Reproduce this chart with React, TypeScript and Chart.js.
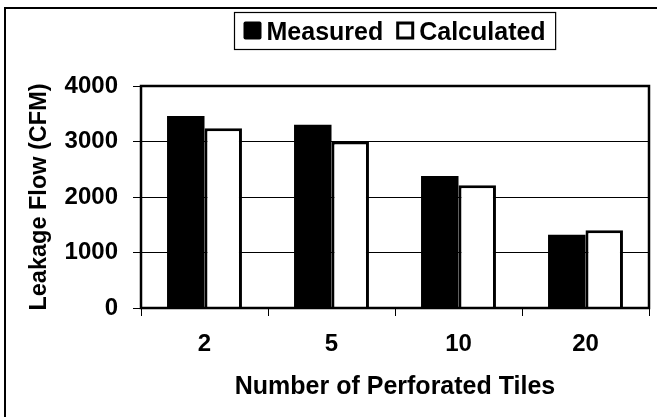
import React, { useEffect, useRef } from "react";
import { Chart, registerables } from "chart.js";

Chart.register(...registerables);

const categories = ["2", "5", "10", "20"];
const measured = [3460, 3300, 2380, 1320];
const calculated = [3240, 3000, 2210, 1400];
const yTicks = [0, 1000, 2000, 3000, 4000];
const seriesNames = ["Measured", "Calculated"];
const xTitle = "Number of Perforated Tiles";
const yTitle = "Leakage Flow (CFM)";

const FONT = "'Liberation Sans', Arial, Helvetica, sans-serif";

const framePlugin = {
  id: "frame",
  afterDatasetsDraw(chart: any) {
    const { ctx, chartArea: a } = chart;
    ctx.save();
    ctx.strokeStyle = "#000";
    ctx.lineWidth = 2.5;
    ctx.strokeRect(a.left, a.top, a.right - a.left, a.bottom - a.top);
    ctx.restore();
  },
  afterDraw(chart: any) {
    const { ctx, chartArea: a } = chart;
    ctx.save();
    // outer frame (only left and top edges visible)
    ctx.strokeStyle = "#000";
    ctx.lineWidth = 2;
    ctx.beginPath();
    ctx.moveTo(5, chart.height);
    ctx.lineTo(5, 8);
    ctx.lineTo(chart.width, 8);
    ctx.stroke();

    // legend
    const ds = chart.data.datasets;
    ctx.font = `bold 25px ${FONT}`;
    const w1 = ctx.measureText(ds[0].label).width;
    const w2 = ctx.measureText(ds[1].label).width;
    const padL = 9, mk = 18, gap = 5, between = 13, padR = 10;
    const total = padL + mk + gap + w1 + between + mk + gap + w2 + padR;
    const cx = (a.left + a.right) / 2;
    const bx = Math.round(cx - total / 2) + 0.5;
    const by = 12.5;
    const bh = 37;
    ctx.fillStyle = "#fff";
    ctx.fillRect(bx, by, total, bh);
    ctx.lineWidth = 1.2;
    ctx.strokeStyle = "#000";
    ctx.strokeRect(bx, by, total, bh);

    const my = 21.5;
    let x = bx + padL;
    ctx.fillStyle = ds[0].backgroundColor;
    ctx.beginPath();
    (ctx as any).roundRect ? (ctx as any).roundRect(x, my, mk, mk, 2) : ctx.rect(x, my, mk, mk);
    ctx.fill();
    x += mk + gap;
    ctx.fillStyle = "#000";
    ctx.textBaseline = "alphabetic";
    ctx.textAlign = "left";
    ctx.fillText(ds[0].label, x, 39.5);
    x += w1 + between;
    ctx.fillStyle = ds[1].backgroundColor;
    ctx.fillRect(x, my, mk, mk);
    ctx.lineWidth = 3;
    ctx.strokeStyle = ds[1].borderColor;
    ctx.strokeRect(x + 1.5, my + 1.5, mk - 3, mk - 3);
    x += mk + gap;
    ctx.fillStyle = "#000";
    ctx.fillText(ds[1].label, x, 39.5);
    ctx.restore();
  },
};

export default function App() {
  const ref = useRef<HTMLCanvasElement | null>(null);

  useEffect(() => {
    if (!ref.current) return;
    const tickFont = { family: FONT, size: 24, weight: "bold" as const };
    const xTickFont = { family: FONT, size: 24, weight: "bold" as const };
    const titleFont = { family: FONT, size: 25, weight: "bold" as const };
    const chart = new Chart(ref.current, {
      type: "bar",
      data: {
        labels: categories,
        datasets: [
          {
            label: seriesNames[0],
            data: measured,
            backgroundColor: "#000",
            borderColor: "#000",
            borderWidth: 0,
            categoryPercentage: 0.59,
            barPercentage: 1,
          },
          {
            label: seriesNames[1],
            data: calculated,
            backgroundColor: "#fff",
            borderColor: "#000",
            borderWidth: 3,
            categoryPercentage: 0.59,
            barPercentage: 1,
          },
        ],
      },
      options: {
        responsive: false,
        animation: false,
        devicePixelRatio: 1,
        layout: { padding: { top: 86, right: 8, left: 0, bottom: 0 } },
        plugins: {
          legend: { display: false },
          tooltip: { enabled: false },
          title: { display: false },
        },
        scales: {
          x: {
            type: "category",
            grid: {
              offset: true,
              drawOnChartArea: false,
              drawTicks: true,
              tickLength: 8,
              color: "#000",
              lineWidth: 1,
            },
            border: { display: false },
            ticks: { color: "#000", font: xTickFont, padding: 14, maxRotation: 0 },
            title: {
              display: true,
              text: xTitle,
              color: "#000",
              font: titleFont,
              padding: { top: 0, bottom: 15 },
            },
            afterFit: (s: any) => {
              s.height = 109;
            },
          },
          y: {
            min: yTicks[0],
            max: yTicks[yTicks.length - 1],
            ticks: {
              stepSize: 1000,
              color: "#000",
              font: tickFont,
              padding: 15,
              callback: (v: any) => String(v),
            },
            grid: { color: "#000", lineWidth: 1, tickLength: 8, drawTicks: true },
            border: { display: false },
            title: {
              display: true,
              text: yTitle,
              color: "#000",
              font: { family: FONT, size: 23.5, weight: "bold" as const },
              padding: { top: 25, bottom: 0 },
            },
            afterFit: (s: any) => {
              s.width = 141;
            },
          },
        },
      },
      plugins: [framePlugin],
    } as any);
    return () => chart.destroy();
  }, []);

  return (
    <div style={{ position: "absolute", left: 0, top: 0, width: 657, height: 417, background: "#fff" }}>
      <canvas ref={ref} width={657} height={417} style={{ width: 657, height: 417 }} />
    </div>
  );
}
